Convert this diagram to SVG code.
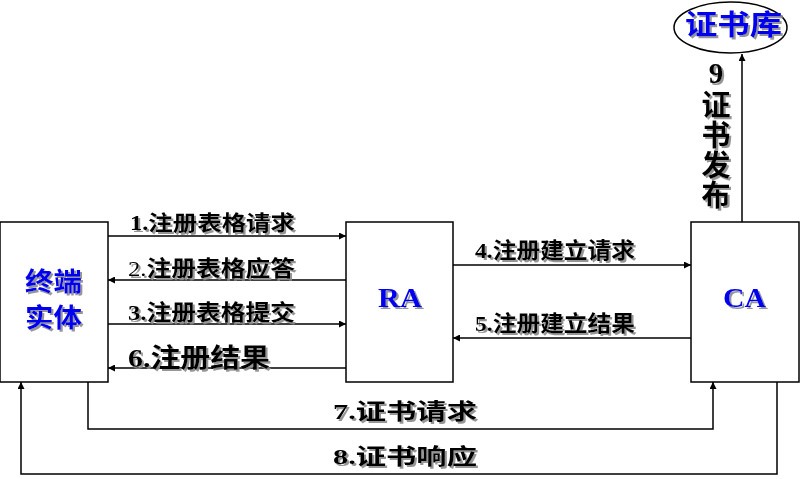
<svg xmlns="http://www.w3.org/2000/svg" width="800" height="479" viewBox="0 0 800 479">
<defs>
<filter id="sh" x="-10%" y="-20%" width="130%" height="150%">
<feDropShadow dx="2" dy="2" stdDeviation="0.7" flood-color="#8a8a8a" flood-opacity="0.9"/>
</filter>
<marker id="ah" viewBox="0 0 10 10" refX="10" refY="5" markerWidth="9" markerHeight="7" markerUnits="userSpaceOnUse" orient="auto">
<path d="M0,0 L10,5 L0,10 z" fill="#000"/>
</marker>
</defs>
<style>
.box{fill:#fff;stroke:#000;stroke-width:1.5}
.conn{fill:none;stroke:#000;stroke-width:1.5;marker-end:url(#ah)}
.lbl{font-family:"Liberation Serif","Noto Sans CJK SC",serif;font-weight:bold;fill:#000;filter:url(#sh)}
.cjk{font-family:"Noto Sans CJK SC","Liberation Serif",sans-serif;font-weight:bold}
.reg{font-weight:normal}
.vert{writing-mode:vertical-rl;text-orientation:upright;letter-spacing:1px}
.node{font-family:"Liberation Serif","Noto Sans CJK SC",serif;font-weight:bold;fill:#0000ee;filter:url(#sh)}
</style>
<rect width="800" height="479" fill="#fff"/>
<g id="connectors">
<path class="conn" d="M108,236 H346"/>
<path class="conn" d="M346,280 H108"/>
<path class="conn" d="M108,324 H346"/>
<path class="conn" d="M346,368 H108"/>
<path class="conn" d="M453,265 H691"/>
<path class="conn" d="M691,338 H453"/>
<path class="conn" d="M88,382 V429 H713 V382"/>
<path class="conn" d="M777,382 V474 H21 V382"/>
<path class="conn" d="M742,222 V54"/>
</g>
<g id="labels">
<text class="lbl" x="130" y="230" font-size="21" textLength="165" lengthAdjust="spacingAndGlyphs">1.<tspan class="cjk">注册表格请求</tspan></text>
<text class="lbl" x="128" y="276" font-size="22" textLength="167" lengthAdjust="spacingAndGlyphs"><tspan class="reg">2.</tspan><tspan class="cjk">注册表格应答</tspan></text>
<text class="lbl" x="128" y="320" font-size="22" textLength="167" lengthAdjust="spacingAndGlyphs">3.<tspan class="cjk">注册表格提交</tspan></text>
<text class="lbl" x="128" y="367" font-size="26" textLength="142" lengthAdjust="spacingAndGlyphs">6.<tspan class="cjk">注册结果</tspan></text>
<text class="lbl" x="475" y="258" font-size="22" textLength="160" lengthAdjust="spacingAndGlyphs">4.<tspan class="cjk">注册建立请求</tspan></text>
<text class="lbl" x="475" y="331" font-size="22" textLength="160" lengthAdjust="spacingAndGlyphs">5.<tspan class="cjk">注册建立结果</tspan></text>
<text class="lbl" x="333" y="419" font-size="22" textLength="144" lengthAdjust="spacingAndGlyphs">7.<tspan class="cjk">证书请求</tspan></text>
<text class="lbl" x="333" y="464" font-size="22" textLength="144" lengthAdjust="spacingAndGlyphs">8.<tspan class="cjk">证书响应</tspan></text>
<text class="lbl vert" x="716" y="57" font-size="29">9<tspan class="cjk">证书发布</tspan></text>
</g>
<g id="end-entity">
<rect class="box" x="0" y="222" width="108" height="160"/>
<text class="node cjk" x="25" y="291" font-size="26" textLength="57" lengthAdjust="spacingAndGlyphs">终端</text>
<text class="node cjk" x="25" y="327" font-size="26" textLength="57" lengthAdjust="spacingAndGlyphs">实体</text>
</g>
<g id="ra">
<rect class="box" x="346" y="222" width="107" height="160"/>
<text class="node" x="378" y="307" font-size="28" textLength="44" lengthAdjust="spacingAndGlyphs">RA</text>
</g>
<g id="ca">
<rect class="box" x="691" y="222" width="108" height="160"/>
<text class="node" x="723" y="307" font-size="28" textLength="43" lengthAdjust="spacingAndGlyphs">CA</text>
</g>
<g id="repository">
<ellipse cx="730.5" cy="27.5" rx="56.5" ry="25.5" fill="#fff" stroke="#000" stroke-width="1.5"/>
<text class="node cjk" x="685" y="35" font-size="28" textLength="97" lengthAdjust="spacingAndGlyphs">证书库</text>
</g>
</svg>
